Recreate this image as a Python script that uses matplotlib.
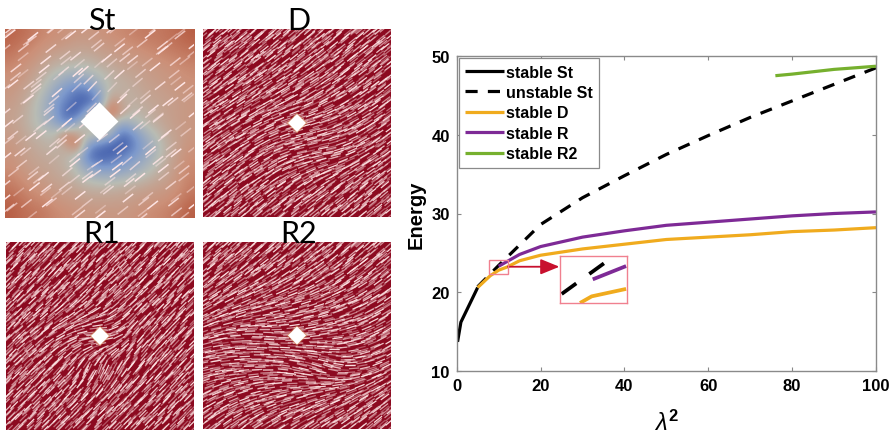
"""
plot.py
-------
Four field panels (St, D, R1, R2) on the left, energy vs lambda^2 on the right.
"""

import numpy as np
import matplotlib
matplotlib.use("Agg")
import matplotlib.pyplot as plt
from matplotlib.collections import LineCollection
from matplotlib.colors import LinearSegmentedColormap
from matplotlib.patches import Polygon, Rectangle

W, H = 896, 435

plt.rcParams["font.family"] = ["Liberation Sans", "DejaVu Sans"]
plt.rcParams["mathtext.fontset"] = "custom"
plt.rcParams["mathtext.rm"] = "Liberation Sans:bold"
plt.rcParams["mathtext.it"] = "Liberation Sans:italic"
plt.rcParams["mathtext.bf"] = "Liberation Sans:bold"

# courbes
st_x = [0.2, 1, 3, 5]
st_y = [13.7, 16.2, 18.4, 20.6]
unst_x = [5, 10, 15, 20, 30, 40, 50, 60, 70, 80, 90, 100]
unst_y = [20.7, 23.4, 26.0, 28.6, 32.0, 34.8, 37.5, 39.9, 42.2, 44.3, 46.4, 48.5]
d_x = [5, 8, 10, 12, 15, 20, 30, 40, 50, 60, 70, 80, 90, 100]
d_y = [20.6, 22.1, 22.8, 23.2, 24.0, 24.7, 25.5, 26.1, 26.7, 27.0, 27.3, 27.7, 27.9, 28.2]
r_x = [10, 15, 20, 30, 40, 50, 60, 70, 80, 90, 100]
r_y = [23.3, 24.8, 25.8, 27.0, 27.8, 28.5, 28.9, 29.3, 29.7, 30.0, 30.2]
r2_x = [76, 80, 90, 100]
r2_y = [47.5, 47.7, 48.3, 48.7]

# courbes de l'encart, lues telles qu'elles y sont dessinées
inset_black_x = [7.91, 10.84]
inset_black_y = [22.69, 23.90]
inset_r_x = [9.96, 12.16]
inset_r_y = [23.24, 23.74]
inset_d_x = [9.12, 9.89, 12.16]
inset_d_y = [22.35, 22.60, 22.88]

x_ticks = [0, 20, 40, 60, 80, 100]
y_ticks = [10, 20, 30, 40, 50]

# champ du panneau St (0 = bleu, 1 = rouge), du haut vers le bas
st_field = [
    [.92, .90, .86, .82, .80, .78, .76, .76, .78, .80, .82, .84, .86, .86, .88, .90, .94],
    [.90, .86, .82, .78, .76, .74, .72, .72, .74, .76, .78, .80, .82, .84, .86, .88, .90],
    [.86, .82, .78, .74, .70, .68, .66, .66, .70, .72, .74, .76, .78, .80, .82, .84, .86],
    [.82, .78, .74, .68, .62, .58, .56, .58, .62, .66, .70, .72, .74, .76, .78, .80, .82],
    [.78, .76, .70, .62, .52, .44, .40, .44, .54, .62, .66, .68, .72, .74, .76, .78, .80],
    [.76, .72, .66, .56, .42, .30, .20, .24, .44, .62, .64, .66, .70, .72, .74, .76, .78],
    [.74, .70, .62, .50, .34, .22, .12, .10, .30, .80, .66, .64, .68, .70, .72, .74, .76],
    [.72, .68, .60, .50, .34, .14, .10, .50, .60, .95, .72, .60, .64, .68, .72, .74, .76],
    [.72, .68, .60, .52, .42, .20, .50, .60, .60, .60, .40, .52, .60, .66, .70, .74, .76],
    [.74, .70, .64, .60, .58, .90, .70, .60, .60, .50, .14, .28, .46, .58, .68, .72, .76],
    [.76, .72, .68, .64, .62, .70, .90, .30, .20, .10, .08, .22, .38, .52, .64, .72, .78],
    [.78, .74, .70, .68, .66, .62, .50, .18, .10, .14, .24, .32, .42, .54, .66, .74, .80],
    [.80, .76, .72, .70, .68, .64, .54, .40, .32, .32, .36, .42, .52, .60, .68, .76, .82],
    [.84, .80, .76, .74, .70, .68, .62, .56, .52, .52, .54, .58, .62, .68, .72, .78, .84],
    [.88, .84, .80, .78, .74, .72, .70, .66, .66, .66, .68, .70, .72, .74, .76, .80, .86],
    [.92, .88, .84, .82, .78, .76, .74, .72, .72, .72, .72, .74, .76, .78, .80, .84, .90],
    [.94, .90, .88, .86, .82, .80, .78, .76, .76, .76, .76, .78, .80, .82, .84, .88, .94],
]

# orientation des traits (degrés), grille 7x7, du haut vers le bas
st_angles = [
    [38, 38, 38, 38, 38, 38, 38],
    [38, 38, 38, 40, 38, 38, 38],
    [38, 38, 42, 50, 42, 38, 38],
    [38, 38, 40, 40, 40, 38, 38],
    [38, 38, 42, 30, 42, 38, 38],
    [38, 38, 38, 38, 38, 38, 38],
    [38, 38, 38, 38, 38, 38, 38],
]
d_angles = [
    [40, 40, 40, 40, 40, 40, 40],
    [38, 38, 38, 38, 38, 38, 38],
    [35, 35, 32, 30, 32, 35, 38],
    [35, 32, 25, 15, 20, 30, 36],
    [36, 35, 30, 15, 10, 28, 38],
    [38, 38, 36, 34, 35, 38, 40],
    [40, 40, 40, 40, 40, 40, 40],
]
r1_angles = [
    [45, 45, 45, 45, 45, 45, 45],
    [45, 45, 45, 45, 45, 45, 45],
    [45, 44, 42, 40, 42, 45, 45],
    [45, 40, 25, -10, 50, 48, 45],
    [45, 44, 50, 70, 52, 48, 45],
    [45, 45, 45, 45, 45, 45, 45],
    [45, 45, 45, 45, 45, 45, 45],
]
r2_angles = [
    [42, 42, 42, 42, 42, 42, 42],
    [40, 38, 36, 34, 34, 36, 40],
    [32, 24, 18, 16, 20, 26, 34],
    [18, 5, -5, 5, 8, 18, 32],
    [12, 5, 0, -15, -20, 8, 30],
    [30, 22, 15, 15, 20, 30, 38],
    [40, 38, 34, 34, 36, 40, 42],
]

# décalages de placement des traits
jitter_a = [0.31, -0.42, 0.12, 0.47, -0.18, -0.36, 0.25, -0.07, 0.39, -0.49, 0.05, 0.21, -0.28, 0.44, -0.13]
jitter_b = [-0.22, 0.37, 0.08, -0.45, 0.29, 0.16, -0.33, 0.48, -0.11, 0.02, 0.41, -0.39, 0.19, -0.04, 0.33, -0.26, 0.11]
alphas = [0.4, 0.65, 0.3, 0.85, 0.45, 0.55, 0.35, 0.75, 0.5]


def fig_axes(fig, left, top, right, bottom, **kw):
    return fig.add_axes([left / W, 1 - bottom / H, (right - left) / W, (bottom - top) / H], **kw)


def angle_at(table, fx, fy):
    # interpolation bilinéaire dans la grille d'angles
    t = np.array(table, dtype=float)
    n = t.shape[0] - 1
    i = min(int(fy * n), n - 1)
    j = min(int(fx * n), n - 1)
    u, v = fy * n - i, fx * n - j
    return (t[i, j] * (1 - u) * (1 - v) + t[i, j + 1] * (1 - u) * v
            + t[i + 1, j] * u * (1 - v) + t[i + 1, j + 1] * u * v)


def draw_streaks(ax, table, step, length, lw, alpha_scale=1.0):
    segs, cols = [], []
    k = 0
    for row, y in enumerate(np.arange(0, 1.001, step)):
        for col, x in enumerate(np.arange(0, 1.001, step)):
            k += 1
            fx = np.clip(x + (0.5 * (row % 2) + jitter_a[(row * 7 + col) % 15] * 1.4) * step, 0, 1)
            fy = np.clip(y + jitter_b[(col * 5 + row * 3) % 17] * 1.4 * step, 0, 1)
            a = np.radians(angle_at(table, fx, fy))
            dx, dy = 0.5 * length * np.cos(a), 0.5 * length * np.sin(a)
            segs.append([(fx - dx, 1 - fy - dy), (fx + dx, 1 - fy + dy)])
            cols.append((1, 0.9, 0.9, min(1.0, alphas[k % 9] * alpha_scale)))
    ax.add_collection(LineCollection(segs, colors=cols, linewidths=lw, capstyle="butt"))


def draw_diamond(ax, half, cy=0.5):
    cx = 0.5
    g = half * 1.15
    ax.add_patch(Polygon([(cx - g, cy), (cx, cy + g), (cx + g, cy), (cx, cy - g)],
                         fc="#d9925a", ec="none", alpha=0.6, zorder=3))
    ax.add_patch(Polygon([(cx - half, cy), (cx, cy + half), (cx + half, cy), (cx, cy - half)],
                         fc="white", ec="none", zorder=4))


def setup_panel(ax, title):
    ax.set_xlim(0, 1)
    ax.set_ylim(0, 1)
    ax.set_xticks([])
    ax.set_yticks([])
    for s in ax.spines.values():
        s.set_visible(False)
    ax.text(0.51, 1.0, title, transform=ax.transAxes, ha="center", va="baseline",
            fontsize=22, family=["Lato", "DejaVu Sans"], clip_on=False, zorder=6)


fig = plt.figure(figsize=(W / 100, H / 100), dpi=100)

# panneau St
cmap = LinearSegmentedColormap.from_list(
    "st", [(0, "#24409c"), (0.3, "#7d99cc"), (0.58, "#b9bcb4"), (0.8, "#cc9078"), (1, "#b04a30")])
ax = fig_axes(fig, 5, 30, 194, 219)
ax.imshow(st_field, cmap=cmap, vmin=0, vmax=1, extent=(0, 1, 0, 1), interpolation="bicubic", aspect="auto")
draw_streaks(ax, st_angles, 0.068, 0.07, 1.1, 1.3)
ax.add_patch(Polygon([(0.4, 0.51), (0.5, 0.612), (0.6, 0.51), (0.5, 0.413)], fc="white", ec="none", zorder=4))
setup_panel(ax, "St")

# panneaux D, R1, R2
panels = [
    ("D", (203, 30, 391, 218), d_angles),
    ("R1", (6, 243, 194, 431), r1_angles),
    ("R2", (203, 243, 391, 430), r2_angles),
]
for title, box, angles in panels:
    ax = fig_axes(fig, box[0], box[1], box[2], box[3], facecolor="#8c0a20")
    draw_streaks(ax, angles, 0.024, 0.055, 0.9, 1.1)
    draw_diamond(ax, 0.048)
    setup_panel(ax, title)

# courbe d'énergie
ax = fig_axes(fig, 456.7, 57, 876, 372)
lw = 2.3
ax.plot(st_x, st_y, color="black", lw=lw, solid_capstyle="butt", label="stable St")
ax.plot(unst_x, unst_y, color="black", lw=lw, ls=(0, (3.8, 3.2)), dash_capstyle="butt", label="unstable St")
ax.plot(d_x, d_y, color="#f0ab1e", lw=lw, solid_capstyle="butt", label="stable D")
ax.plot(r_x, r_y, color="#7e2a96", lw=lw, solid_capstyle="butt", label="stable R")
ax.plot(r2_x, r2_y, color="#76b02e", lw=lw, solid_capstyle="butt", label="stable R2")
ax.set_xlim(0, 100)
ax.set_ylim(10, 50)
ax.set_xticks(x_ticks)
ax.set_yticks(y_ticks)
ax.tick_params(direction="in", top=True, right=True, length=3, width=0.8, color="#888888", pad=5, labelsize=12)
for lab in ax.get_xticklabels() + ax.get_yticklabels():
    lab.set_fontweight("bold")
for s in ax.spines.values():
    s.set_color("#8a8a8a")
    s.set_linewidth(1.0)
ax.set_xlabel(r"$\lambda^{2}$", fontsize=17, labelpad=12, fontweight="bold")
ax.set_ylabel("Energy", fontsize=14.5, fontweight="bold", labelpad=4.5)

leg = ax.legend(loc="upper left", bbox_to_anchor=(0.005, 0.993), borderaxespad=0, frameon=True, fancybox=False,
                framealpha=1, edgecolor="#8a8a8a", prop={"weight": "bold", "size": 11.5},
                handlelength=2.4, labelspacing=0.34, handletextpad=0.15, borderpad=0.4)
leg.get_frame().set_linewidth(0.9)

# zoom : rectangle, flèche et encart
ax.add_patch(Rectangle((7.8, 22.35), 4.4, 1.78, fc="none", ec="#f0808f", lw=1.0, zorder=5))
ax.annotate("", xy=(24.5, 23.24), xytext=(12.2, 23.24),
            arrowprops=dict(arrowstyle="-|>,head_length=1.15,head_width=0.47", color="#c8102e", lw=1.3,
                            shrinkA=0, shrinkB=0))

inset = fig_axes(fig, 560, 256.7, 626.7, 304)
inset.plot(inset_black_x, inset_black_y, color="black", lw=2.7, ls=(0, (4.8, 4.3)), dash_capstyle="butt")
inset.plot(inset_d_x, inset_d_y, color="#f0ab1e", lw=2.7, solid_capstyle="butt")
inset.plot(inset_r_x, inset_r_y, color="#7e2a96", lw=2.7, solid_capstyle="butt")
inset.set_xlim(7.8, 12.2)
inset.set_ylim(22.35, 24.13)
inset.set_xticks([])
inset.set_yticks([])
for s in inset.spines.values():
    s.set_color("#f0808f")
    s.set_linewidth(1.0)

fig.savefig("out.png", dpi=100)
